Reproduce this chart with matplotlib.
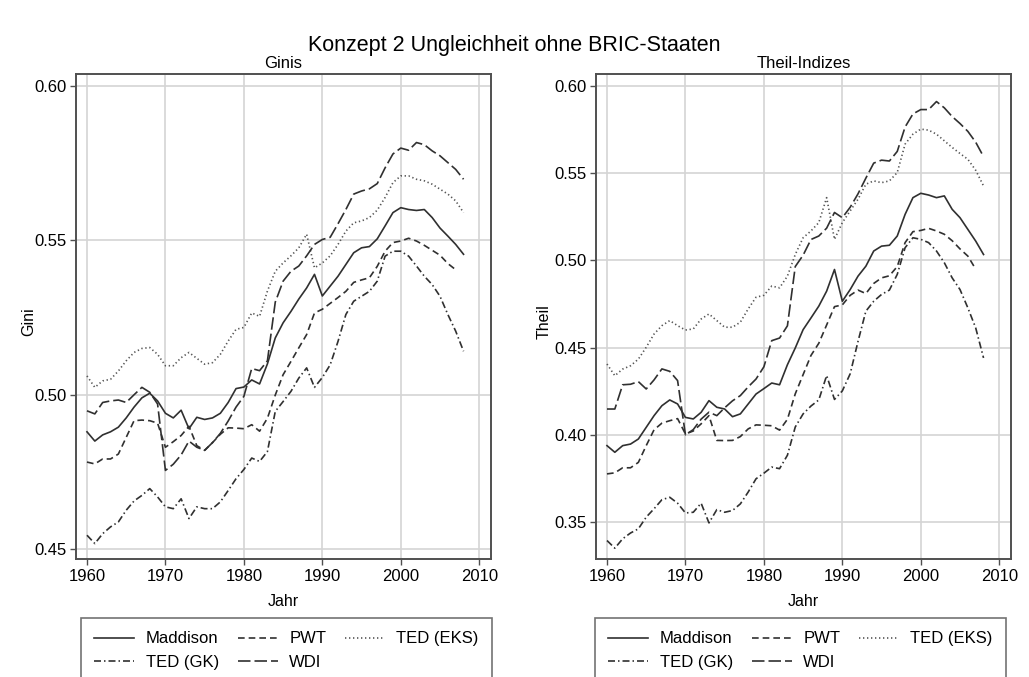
import numpy as np
import matplotlib
matplotlib.use("Agg")
import matplotlib.pyplot as plt

plt.rcParams['font.family'] = ['Liberation Sans', 'DejaVu Sans']

# years
years = list(range(1960, 2009))
years_pwt = list(range(1960, 2008))

# --- Gini values ---
gini_maddison = [0.488, 0.485, 0.487, 0.488, 0.4895, 0.4925, 0.496, 0.499, 0.5005, 0.498,
                 0.494, 0.4925, 0.495, 0.489, 0.4927, 0.492, 0.4925, 0.494, 0.4975, 0.502,
                 0.5025, 0.5048, 0.5035, 0.510, 0.5184, 0.5233, 0.527, 0.531, 0.5346, 0.539,
                 0.532, 0.5352, 0.5384, 0.5422, 0.546, 0.5476, 0.548, 0.5505, 0.5547, 0.559,
                 0.5606, 0.560, 0.5597, 0.560, 0.5574, 0.554, 0.5514, 0.5487, 0.5455]
gini_pwt = [0.4782, 0.4776, 0.4792, 0.4792, 0.4808, 0.4862, 0.4916, 0.4918, 0.4916, 0.4908,
            0.483, 0.4848, 0.4868, 0.4898, 0.4835, 0.482, 0.4845, 0.4872, 0.4893, 0.4892,
            0.489, 0.4903, 0.4882, 0.4924, 0.4999, 0.5065, 0.5108, 0.5152, 0.5195, 0.5265,
            0.5277, 0.5296, 0.5315, 0.5335, 0.5364, 0.5372, 0.5379, 0.5416, 0.5465, 0.5493,
            0.5498, 0.5507, 0.5498, 0.5484, 0.5468, 0.5452, 0.5425, 0.5405]
gini_ted_eks = [0.5061, 0.5024, 0.5045, 0.505, 0.5077, 0.511, 0.5137, 0.515, 0.5153, 0.5131,
                0.5094, 0.5094, 0.512, 0.5137, 0.5118, 0.5099, 0.5104, 0.5131, 0.5174, 0.5212,
                0.5218, 0.5265, 0.5254, 0.5336, 0.540, 0.5427, 0.545, 0.5476, 0.552, 0.5411,
                0.5427, 0.545, 0.5487, 0.553, 0.5557, 0.5563, 0.5574, 0.5598, 0.5639, 0.5687,
                0.5709, 0.5709, 0.5698, 0.5693, 0.5682, 0.5666, 0.565, 0.5628, 0.559]
gini_ted_gk = [0.4545, 0.4518, 0.455, 0.4572, 0.4588, 0.4626, 0.4656, 0.4674, 0.4696, 0.4669,
               0.4637, 0.4631, 0.4663, 0.4599, 0.4637, 0.4631, 0.4631, 0.4653, 0.469, 0.4728,
               0.4758, 0.4795, 0.4784, 0.4816, 0.4946, 0.4978, 0.5011, 0.5054, 0.5087, 0.5024,
               0.5056, 0.5097, 0.5173, 0.526, 0.5303, 0.5319, 0.5335, 0.5368, 0.5449, 0.5465,
               0.5465, 0.5449, 0.5417, 0.5384, 0.5357, 0.5319, 0.526, 0.5206, 0.5141]
gini_wdi = [0.4948, 0.4938, 0.4975, 0.498, 0.4983, 0.4975, 0.500, 0.5024, 0.5008, 0.497,
            0.4755, 0.4775, 0.4805, 0.485, 0.483, 0.482, 0.4845, 0.4875, 0.4915, 0.496,
            0.4995, 0.5085, 0.5078, 0.511, 0.530, 0.5368, 0.540, 0.5417, 0.545, 0.5487,
            0.5503, 0.551, 0.5554, 0.560, 0.565, 0.566, 0.5667, 0.5684, 0.5735, 0.578,
            0.5799, 0.5792, 0.5817, 0.581, 0.579, 0.5774, 0.5752, 0.573, 0.5698]

# --- Theil values ---
theil_maddison = [0.3938, 0.390, 0.3938, 0.3947, 0.3976, 0.4043, 0.411, 0.4167, 0.420, 0.4177,
                  0.410, 0.4091, 0.4129, 0.4196, 0.4158, 0.4148, 0.4104, 0.412, 0.4177, 0.4234,
                  0.4265, 0.4297, 0.4287, 0.4402, 0.4498, 0.4603, 0.467, 0.4738, 0.4824, 0.4948,
                  0.4766, 0.4833, 0.491, 0.4967, 0.5054, 0.5082, 0.5087, 0.514, 0.5264, 0.536,
                  0.5385, 0.5375, 0.536, 0.537, 0.5293, 0.5245, 0.5178, 0.5111, 0.5034]
theil_pwt = [0.3776, 0.3782, 0.3811, 0.3811, 0.3842, 0.3938, 0.4029, 0.4067, 0.4081, 0.4093,
             0.4005, 0.4022, 0.4063, 0.411, 0.3968, 0.3967, 0.3968, 0.399, 0.4034, 0.4057,
             0.4055, 0.4052, 0.4027, 0.4089, 0.4235, 0.4345, 0.4455, 0.4525, 0.463, 0.4735,
             0.4745, 0.4800, 0.4830, 0.4810, 0.4868, 0.4900, 0.4912, 0.4965, 0.5102, 0.5165,
             0.5172, 0.5184, 0.5169, 0.5150, 0.5113, 0.5066, 0.5025, 0.4950]
theil_ted_eks = [0.4406, 0.4339, 0.4377, 0.4396, 0.4434, 0.4502, 0.4578, 0.4626, 0.4655, 0.4626,
                 0.4601, 0.4607, 0.4664, 0.4693, 0.4655, 0.4617, 0.4617, 0.4646, 0.4722, 0.4789,
                 0.4800, 0.4853, 0.4843, 0.491, 0.5034, 0.513, 0.5169, 0.5217, 0.536, 0.5121,
                 0.5217, 0.5284, 0.5351, 0.5437, 0.5456, 0.5446, 0.5456, 0.5504, 0.5667, 0.5724,
                 0.5753, 0.5747, 0.5724, 0.5686, 0.5648, 0.5613, 0.558, 0.5517, 0.5427]
theil_ted_gk = [0.3394, 0.335, 0.3404, 0.3437, 0.3461, 0.3528, 0.3576, 0.3628, 0.3642, 0.3608,
                0.3552, 0.3556, 0.3608, 0.3495, 0.3571, 0.3556, 0.3566, 0.3604, 0.3672, 0.3748,
                0.378, 0.3815, 0.3806, 0.3883, 0.4045, 0.412, 0.4165, 0.4200, 0.4340, 0.4203,
                0.4252, 0.4350, 0.4536, 0.4709, 0.4766, 0.4805, 0.4830, 0.4920, 0.5073, 0.5130,
                0.5121, 0.5102, 0.5054, 0.4987, 0.4900, 0.4833, 0.4728, 0.4613, 0.4441]
theil_wdi = [0.4148, 0.4148, 0.4287, 0.4290, 0.4305, 0.4263, 0.4315, 0.4378, 0.4364, 0.4311,
             0.4000, 0.4030, 0.4090, 0.4130, 0.4110, 0.4155, 0.4195, 0.4225, 0.4275, 0.4320,
             0.4390, 0.4540, 0.4555, 0.4625, 0.4965, 0.5030, 0.5120, 0.5140, 0.5185, 0.5275,
             0.5245, 0.5305, 0.5382, 0.5472, 0.5558, 0.5575, 0.5570, 0.5625, 0.5765, 0.5840,
             0.5865, 0.5865, 0.5911, 0.5875, 0.5825, 0.5785, 0.5740, 0.5678, 0.5595]

x_ticks = [1960, 1970, 1980, 1990, 2000, 2010]
gini_ticks = [0.45, 0.50, 0.55, 0.60]
theil_ticks = [0.35, 0.40, 0.45, 0.50, 0.55, 0.60]

line_col = '#303030'
# name -> (dash pattern, colour)
styles = {
    'Maddison': (None, line_col),
    'PWT': ((4.0, 2.4), line_col),
    'TED (EKS)': ((0.8, 1.6), '#555555'),
    'TED (GK)': ((4.2, 1.8, 0.9, 1.8), line_col),
    'WDI': ((7.5, 2.4), line_col),
}

fig = plt.figure(figsize=(10.29, 6.77), dpi=100)
fig.text(0.5, 1 - 45 / 677, 'Konzept 2 Ungleichheit ohne BRIC-Staaten',
         ha='center', va='center', fontsize=15.5)


def draw_panel(ax, series, title, ylabel, ylim, yticks, ylab_x):
    handles = {}
    for name, xs, ys in series:
        dash, col = styles[name]
        ln, = ax.plot(xs, ys, color=col, lw=1.2, label=name)
        if dash is not None:
            ln.set_dashes(dash)
        handles[name] = ln
    ax.set_xlim(1958.6, 2011.5)
    ax.set_ylim(*ylim)
    ax.set_xticks(x_ticks)
    ax.set_yticks(yticks)
    ax.set_yticklabels([f'{t:.2f}' for t in yticks])
    ax.grid(True, color='#d4d4d4', lw=1.2)
    ax.set_axisbelow(True)
    for s in ax.spines.values():
        s.set_color('#505050')
        s.set_linewidth(1.4)
    ax.tick_params(direction='out', length=4, width=1, color='#505050',
                   labelsize=12, pad=3)
    ax.set_title(title, fontsize=12, pad=4)
    ax.set_xlabel('Jahr', fontsize=11.5)
    ax.set_ylabel(ylabel, fontsize=11.5)
    ax.xaxis.set_label_coords(0.5, -0.073)
    ax.yaxis.set_label_coords(ylab_x, 0.49)
    return handles


ax1 = fig.add_axes([76 / 1029, 118 / 677, 415 / 1029, 485 / 677])
ax2 = fig.add_axes([596 / 1029, 118 / 677, 415 / 1029, 485 / 677])

h1 = draw_panel(ax1, [('Maddison', years, gini_maddison), ('PWT', years_pwt, gini_pwt),
                      ('TED (EKS)', years, gini_ted_eks), ('TED (GK)', years, gini_ted_gk),
                      ('WDI', years, gini_wdi)],
                'Ginis', 'Gini', (0.4468, 0.6039), gini_ticks, -0.095)
h2 = draw_panel(ax2, [('Maddison', years, theil_maddison), ('PWT', years_pwt, theil_pwt),
                      ('TED (EKS)', years, theil_ted_eks), ('TED (GK)', years, theil_ted_gk),
                      ('WDI', years, theil_wdi)],
                'Theil-Indizes', 'Theil', (0.3288, 0.6069), theil_ticks, -0.108)

# legend fills row by row: Maddison, PWT, TED (EKS) / TED (GK), WDI
order = ['Maddison', 'TED (GK)', 'PWT', 'WDI', 'TED (EKS)']
for h, x0 in [(h1, 81), (h2, 595)]:
    leg = fig.legend([h[n] for n in order], order, ncol=3, loc='upper left',
                     bbox_to_anchor=(x0 / 1029, 1 - 618 / 677), fontsize=12,
                     frameon=True, fancybox=False, handlelength=2.4,
                     handletextpad=0.7, columnspacing=1.1, labelspacing=0.5,
                     borderpad=0.8, borderaxespad=0)
    leg.get_frame().set_edgecolor('#505050')
    leg.get_frame().set_linewidth(1.2)

fig.savefig('out.png', dpi=100)
